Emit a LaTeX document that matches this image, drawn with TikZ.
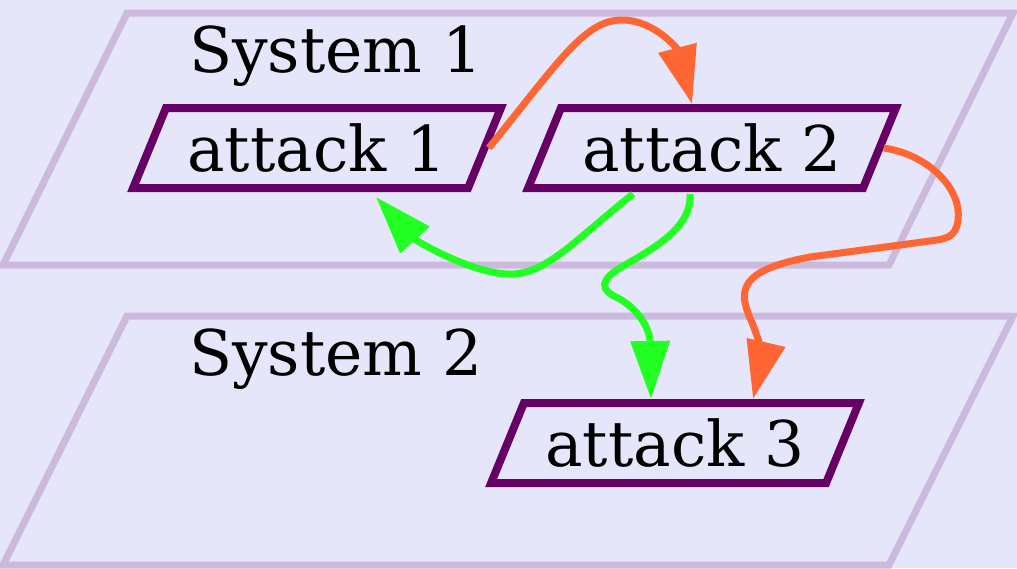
\documentclass[tikz,border=0pt]{standalone}
\usepackage{fontspec}
\setmainfont{DejaVu Serif}
\usetikzlibrary{arrows.meta,shapes.geometric,calc}
\definecolor{lavenderbg}{RGB}{230,230,250}
\definecolor{planeline}{RGB}{204,186,222}
\definecolor{attackline}{RGB}{102,0,102}
\definecolor{attackorange}{RGB}{255,102,51}
\definecolor{attackgreen}{RGB}{34,255,34}

\begin{document}
\begin{tikzpicture}[x=0.5pt,y=-0.5pt,
    attack/.style={trapezium,trapezium left angle=60,trapezium right angle=120,trapezium stretches=true,
        draw=attackline,line width=4pt,fill=lavenderbg,minimum width=184pt,minimum height=40pt,
        inner sep=0pt,font=\fontsize{31.5}{38}\selectfont},
    plane/.style={draw=planeline,line width=3.5pt,fill=lavenderbg},
    syslabel/.style={anchor=base,font=\fontsize{31.5}{38}\selectfont},
    orangeedge/.style={-{Triangle[length=29pt,width=19pt]},draw=attackorange,line width=3.5pt},
    greenedge/.style={-{Triangle[length=29pt,width=19pt]},draw=attackgreen,line width=3.5pt}]

    % Background
    \fill[lavenderbg] (0,0) rectangle (1017,568);
    \useasboundingbox (0,0) rectangle (1017,568);

    % System planes
    \draw[plane] (127,13) -- (1013,13) -- (889,265) -- (3,265) -- cycle;
    \node[syslabel] (sys1) at (336,72) {System 1};
    \draw[plane] (127,316) -- (1013,316) -- (889,565) -- (3,565) -- cycle;
    \node[syslabel] (sys2) at (336,375) {System 2};

    % Attacks
    \node[attack] (a1) at (317,148) {attack 1};
    \node[attack] (a2) at (712,148) {attack 2};
    \node[attack] (a3) at (675,443) {attack 3};

    % Orange flows
    \draw[orangeedge] (a1.east) .. controls (560,60) and (585,20) .. (622,20)
        .. controls (655,20) and (678,50) .. ($(a2.north)+(-20,0)$);
    \draw[orangeedge] (a2.east) .. controls (930,155) and (962,190) .. (958,220)
        .. controls (956,238) and (945,239) .. (930,241) -- (810,257)
        .. controls (740,270) and (738,290) .. (750,318)
        .. controls (760,340) and (762,360) .. ($(a3.north)+(78,0)$);

    % Green flows
    \draw[greenedge] ($(a2.south)+(-79,2)$) .. controls (575,240) and (545,276) .. (508,274)
        .. controls (470,273) and (415,240) .. ($(a1.south)+(59,5)$);
    \draw[greenedge] ($(a2.south)+(-22,2)$) .. controls (692,225) and (660,245) .. (625,265)
        .. controls (598,280) and (600,290) .. (618,298)
        .. controls (640,310) and (650,330) .. ($(a3.north)+(-24,0)$);
\end{tikzpicture}
\end{document}
